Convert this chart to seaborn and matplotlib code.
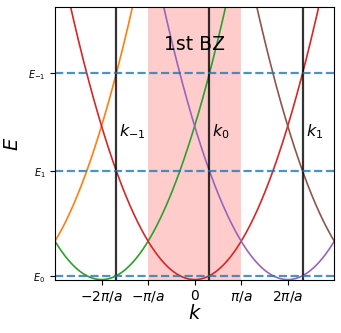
import numpy as np
import pandas as pd
import matplotlib
matplotlib.use("Agg")
import matplotlib.pyplot as plt
import seaborn as sns

# Data (a = 1)
a = 1.0
k0 = 1.0
band_orders = [-2, -1, 0, 1, 2]           # reciprocal lattice index n, G = 2*pi*n/a
band_colors = ["C1", "C2", "C3", "C4", "C5"]
k_points = [k0 - 2*np.pi/a, k0, k0 + 2*np.pi/a]
k_labels = [r"$k_{-1}$", r"$k_0$", r"$k_1$"]
E_levels = [k0**2, (k0 - 2*np.pi/a)**2, (k0 + 2*np.pi/a)**2]
E_labels = [r"$E_0$", r"$E_1$", r"$E_{-1}$"]
xtick_pos = [-2*np.pi/a, -np.pi/a, 0, np.pi/a, 2*np.pi/a]
xtick_labels = [r"$-2\pi/a$", r"$-\pi/a$", "0", r"$\pi/a$", r"$2\pi/a$"]

k = np.linspace(-3*np.pi/a, 3*np.pi/a, 600)
rows = []
for n in band_orders:
    G = 2*np.pi*n/a
    rows.append(pd.DataFrame({"k": k, "E": (k - G)**2, "n": n}))
df = pd.concat(rows, ignore_index=True)

fig = plt.figure(figsize=(3.41, 3.33), dpi=100)
ax = fig.add_axes([55/341, 1-279.6/333, (334.3-55)/341, (279.6-7.3)/333])

ax.axvspan(-np.pi/a, np.pi/a, color="red", alpha=0.2, lw=0)
for n, c in zip(band_orders, band_colors):
    sns.lineplot(data=df[df["n"] == n], x="k", y="E", color=c, lw=1.2, ax=ax)

for kp, lab in zip(k_points, k_labels):
    ax.axvline(kp, color="k", alpha=0.8, lw=1.6)
    ax.text(kp + 0.2, 38, lab, fontsize=11.5, ha="left", va="center")

for E in E_levels:
    ax.axhline(E, color="C0", ls="--", alpha=0.8, lw=1.6)

ax.text(0, 60.5, "1st BZ", fontsize=13.5, ha="center", va="center")

ax.set_xlim(-3*np.pi/a, 3*np.pi/a)
ax.set_ylim(0, 70)
ax.set_xticks(xtick_pos)
ax.set_xticklabels(xtick_labels, fontsize=10)
ax.set_yticks(E_levels)
ax.set_yticklabels(E_labels, fontsize=7)
ax.set_xlabel(r"$k$", fontsize=14, labelpad=0)
ax.set_ylabel(r"$E$", fontsize=14)

fig.savefig("out.png", dpi=100)
